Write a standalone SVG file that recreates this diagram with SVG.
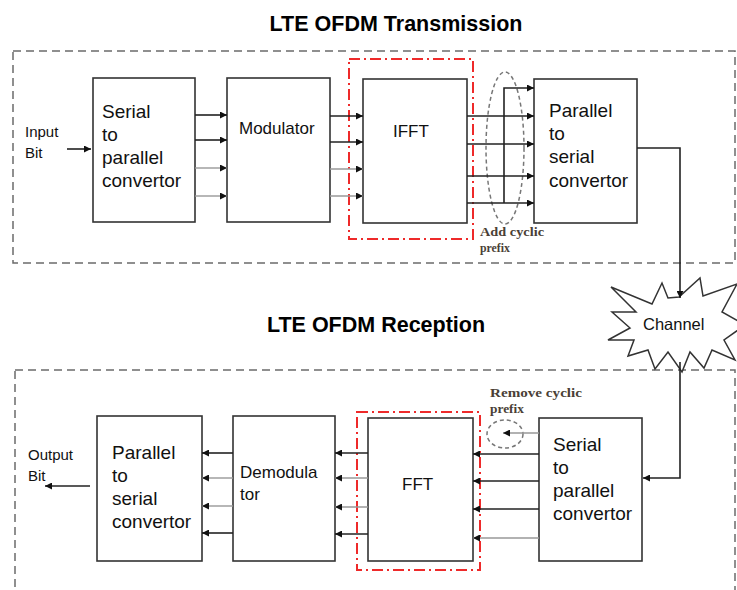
<svg xmlns="http://www.w3.org/2000/svg" width="737" height="590" viewBox="0 0 737 590">
<style>
.frame{fill:none;stroke:#6b6b6b;stroke-width:1.5;stroke-dasharray:8 5}
.red{fill:none;stroke:#ee2a2a;stroke-width:2;stroke-dasharray:11 4 2 4}
.box{fill:#fff;stroke:#333;stroke-width:1.6}
.t{font-family:"Liberation Sans",Arial,sans-serif;fill:#111}
.title{font-family:"Liberation Sans",Arial,sans-serif;font-weight:bold;font-size:21.5px;fill:#000;text-anchor:middle}
.cp{font-family:"Liberation Serif","Times New Roman",serif;font-weight:bold;font-size:13.5px;fill:#4a3f36}
.dk{stroke:#222;stroke-width:1.6;fill:none}
.gr{stroke:#999;stroke-width:1.4;fill:none}
.ell{fill:none;stroke:#777;stroke-width:1.5;stroke-dasharray:4 3}
</style>
<defs>
<marker id="ah" viewBox="0 0 10 10" refX="10" refY="5" markerWidth="8" markerHeight="7" markerUnits="userSpaceOnUse" orient="auto">
<path d="M0,0 L10,5 L0,10 z" fill="#111"/>
</marker>
</defs>
<rect width="737" height="590" fill="#fff"/>

<text class="title" x="396" y="31">LTE OFDM Transmission</text>
<text class="title" x="376" y="332">LTE OFDM Reception</text>

<rect class="frame" x="13" y="51" width="722" height="212"/>
<rect class="frame" x="15" y="370" width="720" height="240"/>

<g id="channel">
<polygon points="611,287 652,304 662,283 668,298 679,297 700,278 703,296 737,284 722,312 745,325 724,340 735,360 712,350 704,368 690,352 682,372 668,352 655,369 648,350 628,356 634,340 608,340 630,328 612,312 636,312" fill="#fff" stroke="#333" stroke-width="1.5" stroke-linejoin="miter"/>
<text class="t" x="643" y="330" font-size="16.5">Channel</text>
</g>

<g id="tx-red"><rect class="red" x="349" y="59" width="124" height="180"/></g>
<g id="rx-red"><rect class="red" x="357" y="412" width="123" height="158"/></g>

<g id="tx-s2p">
<rect class="box" x="93" y="78" width="102" height="144"/>
<text class="t" font-size="19" x="102" y="118">Serial</text>
<text class="t" font-size="19" x="102" y="141">to</text>
<text class="t" font-size="19" x="102" y="164">parallel</text>
<text class="t" font-size="19" x="102" y="187">convertor</text>
</g>
<g id="modulator">
<rect class="box" x="227" y="78" width="103" height="144"/>
<text class="t" font-size="17" x="239" y="134">Modulator</text>
</g>
<g id="ifft">
<rect class="box" x="363" y="79" width="104" height="144"/>
<text class="t" font-size="17" x="393" y="137">IFFT</text>
</g>
<g id="tx-p2s">
<rect class="box" x="534" y="79" width="103" height="144"/>
<text class="t" font-size="19" x="549" y="117">Parallel</text>
<text class="t" font-size="19" x="549" y="140">to</text>
<text class="t" font-size="19" x="549" y="163">serial</text>
<text class="t" font-size="19" x="549" y="187">convertor</text>
</g>
<g id="input-bit">
<text class="t" font-size="15" x="25" y="137">Input</text>
<text class="t" font-size="15" x="25" y="158">Bit</text>
</g>
<g id="add-cp">
<ellipse class="ell" cx="505" cy="148" rx="19" ry="76"/>
<text class="cp" x="480" y="236" textLength="64" lengthAdjust="spacingAndGlyphs">Add cyclic</text>
<text class="cp" x="480" y="252" textLength="30" lengthAdjust="spacingAndGlyphs">prefix</text>
</g>

<g id="rx-p2s">
<rect class="box" x="97" y="416" width="105" height="145"/>
<text class="t" font-size="19" x="112" y="459">Parallel</text>
<text class="t" font-size="19" x="112" y="482">to</text>
<text class="t" font-size="19" x="112" y="505">serial</text>
<text class="t" font-size="19" x="112" y="528">convertor</text>
</g>
<g id="demodulator">
<rect class="box" x="233" y="416" width="102" height="145"/>
<text class="t" font-size="17" x="240" y="478">Demodula</text>
<text class="t" font-size="17" x="240" y="500">tor</text>
</g>
<g id="fft">
<rect class="box" x="368" y="418" width="105" height="143"/>
<text class="t" font-size="17" x="402" y="490">FFT</text>
</g>
<g id="rx-s2p">
<rect class="box" x="539" y="418" width="103" height="143"/>
<text class="t" font-size="19" x="553" y="451">Serial</text>
<text class="t" font-size="19" x="553" y="474">to</text>
<text class="t" font-size="19" x="553" y="497">parallel</text>
<text class="t" font-size="19" x="553" y="520">convertor</text>
</g>
<g id="output-bit">
<text class="t" font-size="15" x="28" y="460">Output</text>
<text class="t" font-size="15" x="28" y="481">Bit</text>
</g>
<g id="remove-cp">
<ellipse class="ell" cx="505" cy="434" rx="18" ry="14"/>
<text class="cp" x="490" y="397" textLength="92" lengthAdjust="spacingAndGlyphs">Remove cyclic</text>
<text class="cp" x="490" y="413" textLength="34" lengthAdjust="spacingAndGlyphs">prefix</text>
</g>

<g id="connectors">
<path class="dk" d="M67,149 H91" marker-end="url(#ah)"/>
<path class="dk" d="M195,115 H227" marker-end="url(#ah)"/>
<path class="dk" d="M195,140 H227" marker-end="url(#ah)"/>
<path class="gr" d="M195,168 H227" marker-end="url(#ah)"/>
<path class="gr" d="M195,196 H227" marker-end="url(#ah)"/>
<path class="dk" d="M330,116 H363" marker-end="url(#ah)"/>
<path class="dk" d="M330,142 H363" marker-end="url(#ah)"/>
<path class="gr" d="M330,169 H363" marker-end="url(#ah)"/>
<path class="gr" d="M330,196 H363" marker-end="url(#ah)"/>
<path class="dk" d="M467,116 H534" marker-end="url(#ah)"/>
<path class="dk" d="M467,144 H534" marker-end="url(#ah)"/>
<path class="dk" d="M467,176 H534" marker-end="url(#ah)"/>
<path class="dk" d="M467,203 H534" marker-end="url(#ah)"/>
<path class="dk" d="M504,203 V88 H534" marker-end="url(#ah)"/>
<path class="dk" d="M637,148 H680 V298" marker-end="url(#ah)"/>
<path class="dk" d="M680,362 V478 H643" marker-end="url(#ah)"/>
<path class="dk" d="M539,454 H473" marker-end="url(#ah)"/>
<path class="dk" d="M539,481 H473" marker-end="url(#ah)"/>
<path class="dk" d="M539,509 H473" marker-end="url(#ah)"/>
<path class="gr" d="M539,538 H473" marker-end="url(#ah)"/>
<path class="gr" d="M539,433 H503" marker-end="url(#ah)"/>
<path class="dk" d="M368,453 H335" marker-end="url(#ah)"/>
<path class="gr" d="M368,478 H335" marker-end="url(#ah)"/>
<path class="gr" d="M368,507 H335" marker-end="url(#ah)"/>
<path class="dk" d="M368,534 H335" marker-end="url(#ah)"/>
<path class="dk" d="M233,453 H202" marker-end="url(#ah)"/>
<path class="gr" d="M233,478 H202" marker-end="url(#ah)"/>
<path class="gr" d="M233,506 H202" marker-end="url(#ah)"/>
<path class="dk" d="M233,533 H202" marker-end="url(#ah)"/>
<path class="dk" d="M90,486 H45" marker-end="url(#ah)"/>
</g>
</svg>
